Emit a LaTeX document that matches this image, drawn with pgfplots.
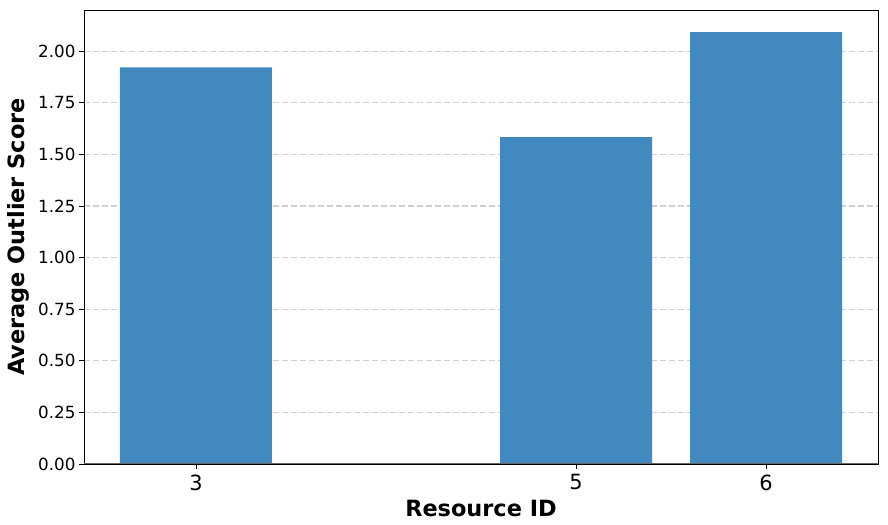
\documentclass[border=0pt]{standalone}
\usepackage{pgfplots}
\pgfplotsset{compat=1.18}
\usepackage{fontspec}
\setmainfont{DejaVu Sans}
\definecolor{barblue}{RGB}{65,137,190}
\definecolor{gridgray}{RGB}{210,210,210}
\begin{document}
\begin{tikzpicture}[x=1bp,y=1bp]
\useasboundingbox (-84,-61) rectangle (804,464);
\begin{axis}[
  at={(0,0)}, anchor=south west,
  scale only axis,
  width=794bp, height=454bp,
  xmin=2.411, xmax=6.589,
  ymin=0, ymax=2.2,
  xtick={3,5,6},
  ytick={0,0.25,0.5,0.75,1,1.25,1.5,1.75,2},
  yticklabel style={/pgf/number format/fixed,/pgf/number format/fixed zerofill,/pgf/number format/precision=2,/pgf/number format/assume math mode=true,font=\fontsize{16.8}{20}\selectfont},
  xticklabel style={font=\fontsize{21}{25}\selectfont,/pgf/number format/assume math mode=true, yshift=-2bp},
  tick align=outside,
  tick pos=left,
  major tick length=5bp,
  tick style={black, line width=0.8bp},
  axis line style={line width=0.8bp},
  ymajorgrids,
  grid style={gridgray, line width=1.1bp, dash pattern=on 6bp off 3bp},
  xlabel={\bfseries Resource ID},
  ylabel={\bfseries Average Outlier Score},
  label style={font=\fontsize{22.5}{27}\selectfont},
  xlabel style={at={(axis description cs:0.5,0)}, anchor=center, yshift=-44bp},
  ylabel style={at={(axis description cs:0,0.5)}, anchor=center, yshift=66bp},
]
\addplot[ybar, bar width=0.8, fill=barblue, draw=none] coordinates {(3,1.922) (5,1.584) (6,2.093)};
\draw[gray!80!black, line width=1.2bp] (axis cs:2.411,0) -- (axis cs:6.589,0);
\end{axis}
\end{tikzpicture}
\end{document}
